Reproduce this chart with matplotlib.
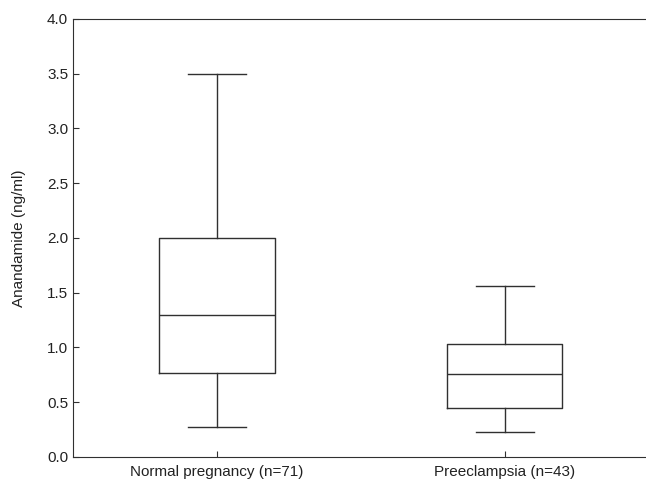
import matplotlib
matplotlib.use('Agg')
import matplotlib.pyplot as plt

plt.rcParams['font.family'] = ['Liberation Sans', 'DejaVu Sans']

# Box plot summary values
groups = ['Normal pregnancy (n=71)', 'Preeclampsia (n=43)']
whisker_low = [0.27, 0.23]
q1 = [0.77, 0.45]
median = [1.30, 0.755]
q3 = [2.00, 1.03]
whisker_high = [3.50, 1.56]

stats = []
for i, name in enumerate(groups):
    stats.append({
        'label': name,
        'whislo': whisker_low[i],
        'q1': q1[i],
        'med': median[i],
        'q3': q3[i],
        'whishi': whisker_high[i],
        'fliers': [],
    })

fig = plt.figure(figsize=(6.46, 4.83), dpi=100)
ax = fig.add_axes([0.113, 0.054, 0.887, 0.907])

line = dict(color='#303030', linewidth=1.0)
ax.bxp(stats, positions=[1, 2], widths=0.4, capwidths=0.2,
       boxprops=line, whiskerprops=line, capprops=line, medianprops=line,
       showfliers=False)

ax.set_xlim(0.5, 2.49)
ax.set_ylim(0, 4.0)
ax.set_yticks([0.0, 0.5, 1.0, 1.5, 2.0, 2.5, 3.0, 3.5, 4.0])
ax.set_yticklabels(['%.1f' % v for v in ax.get_yticks()])
ax.set_ylabel('Anandamide (ng/ml)', fontsize=11, color='#222222')
ax.yaxis.set_label_coords(-0.082, 0.5)
ax.tick_params(direction='in', length=4, labelsize=11, color='#303030',
               labelcolor='#222222')
ax.tick_params(axis='x', pad=6)
ax.spines['right'].set_visible(False)
for s in ['left', 'top', 'bottom']:
    ax.spines[s].set_color('#303030')

fig.savefig('out.png', dpi=100)
